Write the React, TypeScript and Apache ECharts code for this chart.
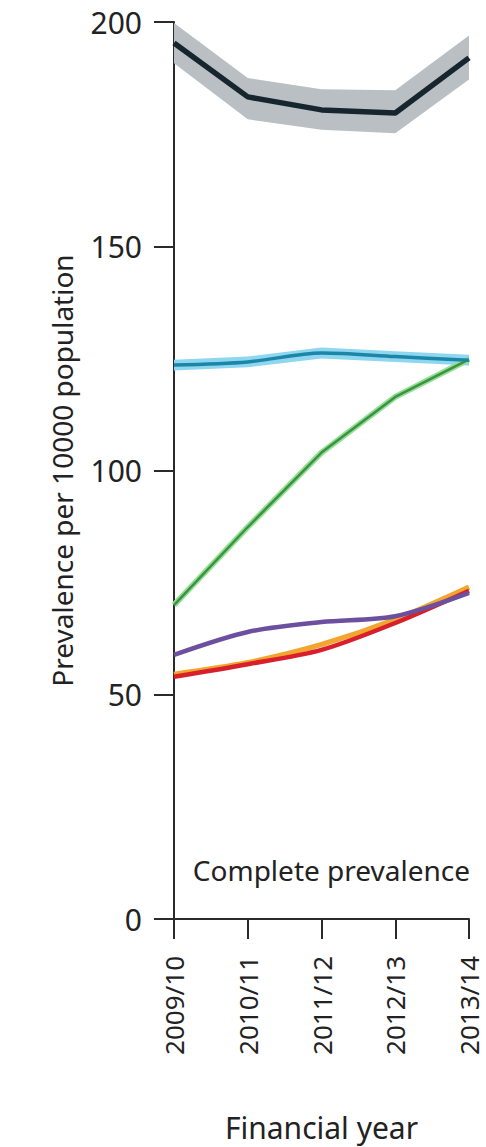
import React, { useEffect, useRef } from "react";
import * as echarts from "echarts";

const years = ["2009/10", "2010/11", "2011/12", "2012/13", "2013/14"];
const yTicks = { min: 0, max: 200, interval: 50 };

const totalMid = [195.3, 183.3, 180.4, 179.7, 192.0];
const totalLow = [190.8, 178.3, 176.0, 175.2, 187.2];
const totalHigh = [199.8, 187.5, 185.0, 184.8, 197.0];

const blueMid = [123.5, 124.2, 126.2, 125.4, 124.6];
const blueLow = [122.3, 123.0, 125.0, 124.2, 123.4];
const blueHigh = [124.7, 125.4, 127.4, 126.6, 125.8];

const greenVals = [70.0, 87.4, 104.0, 116.4, 124.8];
const purpleVals = [58.9, 64.0, 66.2, 67.5, 72.7];
const orangeVals = [54.6, 57.2, 61.2, 66.8, 74.0];
const redVals = [54.0, 56.8, 60.0, 66.0, 73.2];

const labelText = "Complete prevalence";
const xName = "Financial year";
const yName = "Prevalence per 10000 population";

const FONT = "'Noto Sans', sans-serif";

function band(low: number[], high: number[], stack: string, color: string) {
  return [
    {
      type: "line",
      data: low,
      stack,
      symbol: "none",
      lineStyle: { opacity: 0 },
      silent: true,
      z: 1,
    },
    {
      type: "line",
      data: high.map((h, i) => +(h - low[i]).toFixed(2)),
      stack,
      symbol: "none",
      lineStyle: { opacity: 0 },
      areaStyle: { color, opacity: 1 },
      silent: true,
      z: 1,
    },
  ];
}

export default function App() {
  const ref = useRef<HTMLDivElement>(null);
  useEffect(() => {
    if (!ref.current) return;
    const chart = echarts.init(ref.current, undefined, { renderer: "svg" });
    const axisColor = "#2a2a2a";
    chart.setOption({
      animation: false,
      backgroundColor: "#ffffff",
      grid: { left: 174, right: 17, top: 22, bottom: 228, containLabel: false },
      xAxis: {
        type: "category",
        data: years,
        boundaryGap: false,
        name: xName,
        nameLocation: "middle",
        nameGap: 193,
        nameTextStyle: { fontFamily: FONT, fontSize: 30, color: "#222" },
        axisLine: { show: true, lineStyle: { color: axisColor, width: 2 } },
        axisTick: { show: true, length: 20, lineStyle: { color: axisColor, width: 2 }, alignWithLabel: true },
        axisLabel: {
          rotate: 90,
          margin: 37,
          fontFamily: FONT,
          fontSize: 26,
          lineHeight: 26,
          color: "#222",
        },
        splitLine: { show: false },
      },
      yAxis: {
        type: "value",
        min: yTicks.min,
        max: yTicks.max,
        interval: yTicks.interval,
        name: yName,
        nameLocation: "middle",
        nameGap: 98,
        nameTextStyle: { fontFamily: FONT, fontSize: 28, color: "#222" },
        axisLine: { show: true, lineStyle: { color: axisColor, width: 2 } },
        axisTick: { show: true, length: 20, lineStyle: { color: axisColor, width: 2 } },
        axisLabel: { margin: 32, fontFamily: FONT, fontSize: 30, color: "#222" },
        splitLine: { show: false },
      },
      graphic: [
        {
          type: "text",
          right: 16,
          top: 856,
          style: {
            text: labelText,
            fontFamily: FONT,
            fontSize: 28,
            fill: "#222",
          },
        },
      ],
      series: [
        ...band(totalLow, totalHigh, "total", "#b9bfc3"),
        ...band(blueLow, blueHigh, "blue", "#8fd6f0"),
        {
          type: "line",
          data: totalMid,
          symbol: "none",
          lineStyle: { color: "#17262e", width: 5.5 },
          z: 5,
        },
        {
          type: "line",
          data: blueMid,
          symbol: "none",
          smooth: 0.3,
          lineStyle: { color: "#1b86a8", width: 3.5 },
          z: 5,
        },
        {
          type: "line",
          data: greenVals,
          symbol: "none",
          lineStyle: { color: "#8fe08f", width: 6 },
          z: 3,
        },
        {
          type: "line",
          data: greenVals,
          symbol: "none",
          lineStyle: { color: "#3f8f46", width: 2.5 },
          z: 4,
        },
        {
          type: "line",
          data: orangeVals,
          symbol: "none",
          smooth: 0.3,
          lineStyle: { color: "#f3a52d", width: 5 },
          z: 3,
        },
        {
          type: "line",
          data: redVals,
          symbol: "none",
          smooth: 0.3,
          lineStyle: { color: "#d81f2c", width: 4.5 },
          z: 4,
        },
        {
          type: "line",
          data: purpleVals,
          symbol: "none",
          smooth: 0.3,
          lineStyle: { color: "#6d4f9f", width: 4.5 },
          z: 4,
        },
      ],
    });
    return () => chart.dispose();
  }, []);
  return <div ref={ref} style={{ width: 486, height: 1147, position: "absolute", left: 0, top: 0 }} />;
}
